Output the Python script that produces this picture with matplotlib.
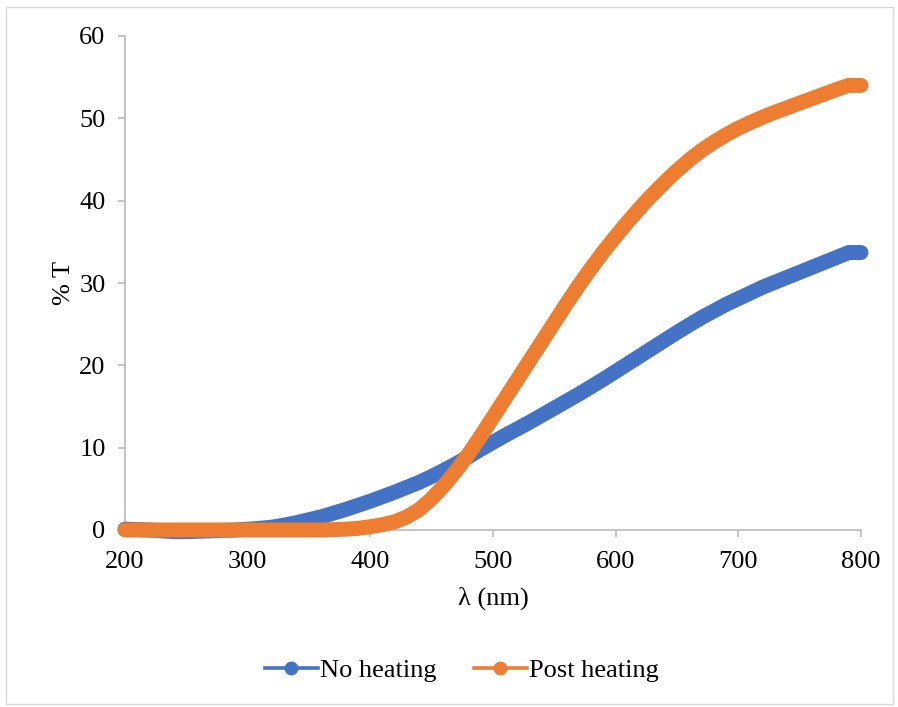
import matplotlib
matplotlib.use("Agg")
import matplotlib.pyplot as plt
from matplotlib.lines import Line2D
from matplotlib.patches import Rectangle

plt.rcParams['font.family'] = ['Liberation Serif', 'DejaVu Serif']

# Wavelength grid (nm), 10 nm steps
wavelength = list(range(200, 801, 10))

# Transmittance (%) of the untreated film
no_heating = [0.1, 0.05, 0.0, -0.1, -0.2, -0.2, -0.15, -0.1, -0.05, 0.0,
              0.1, 0.2, 0.35, 0.6, 0.9, 1.25, 1.6, 2.05, 2.5, 3.0,
              3.5, 4.05, 4.6, 5.2, 5.8, 6.5, 7.25, 8.05, 8.9, 9.8,
              10.65, 11.5, 12.3, 13.1, 13.95, 14.8, 15.65, 16.5, 17.4, 18.3,
              19.25, 20.2, 21.15, 22.1, 23.05, 24.0, 24.9, 25.8, 26.6, 27.4,
              28.1, 28.8, 29.5, 30.1, 30.7, 31.3, 31.9, 32.5, 33.1, 33.7,
              33.7]

# Transmittance (%) after heating
post_heating = [0.0, 0.0, 0.0, 0.0, 0.0, 0.0, 0.0, 0.0, 0.0, 0.0,
                0.0, 0.0, 0.0, 0.0, 0.0, 0.0, 0.0, 0.05, 0.1, 0.2,
                0.4, 0.65, 1.0, 1.6, 2.5, 3.8, 5.4, 7.2, 9.2, 11.4,
                13.7, 16.0, 18.3, 20.6, 22.9, 25.2, 27.5, 29.7, 31.8, 33.8,
                35.65, 37.45, 39.15, 40.75, 42.25, 43.65, 44.95, 46.1, 47.1, 48.0,
                48.8, 49.5, 50.15, 50.75, 51.3, 51.85, 52.4, 52.95, 53.5, 54.0,
                54.0]

series_names = ["No heating", "Post heating"]
series_colors = ["#4472C4", "#ED7D31"]
x_ticks = [200, 300, 400, 500, 600, 700, 800]
y_ticks = [0, 10, 20, 30, 40, 50, 60]

W, H = 898, 707
FS = 19
fig = plt.figure(figsize=(W / 100, H / 100), dpi=100)
fig.patch.set_facecolor("white")

# chart-area border
fig.add_artist(Rectangle((6 / W, 3 / H), 887 / W, 697 / H, transform=fig.transFigure,
                         fill=False, edgecolor="#d9d9d9", linewidth=1.0))

ax = fig.add_axes([125 / W, 177 / H, 736 / W, 494 / H])

for vals, name, col in zip([no_heating, post_heating], series_names, series_colors):
    ax.plot(wavelength, vals, color=col, linewidth=10.8, solid_capstyle="round",
            solid_joinstyle="round", clip_on=False, label=name, zorder=3)

ax.set_xlim(200, 800)
ax.set_ylim(0, 60)
ax.set_xticks(x_ticks)
ax.set_yticks(y_ticks)

for side in ["top", "right"]:
    ax.spines[side].set_visible(False)
for side in ["left", "bottom"]:
    ax.spines[side].set_color("#bfbfbf")
    ax.spines[side].set_linewidth(1.3)

ax.tick_params(axis="both", colors="#bfbfbf", labelcolor="black", labelsize=FS,
               width=1.3, length=5, direction="out")
ax.tick_params(axis="y", pad=9)
ax.tick_params(axis="x", pad=10)

ax.set_xlabel("λ (nm)", fontsize=FS, labelpad=10)
ax.set_ylabel("% T", fontsize=FS, labelpad=3)

handles = [Line2D([0], [0], color=c, linewidth=2.6, marker="o", markersize=9,
                  markerfacecolor=c, markeredgecolor=c) for c in series_colors]
fig.legend(handles, series_names, loc="center", bbox_to_anchor=(462 / W, 1 - 670 / H),
           ncol=2, frameon=False, fontsize=FS, handlelength=2.0, handletextpad=0.1,
           columnspacing=1.4)

fig.savefig("out.png", dpi=100)
